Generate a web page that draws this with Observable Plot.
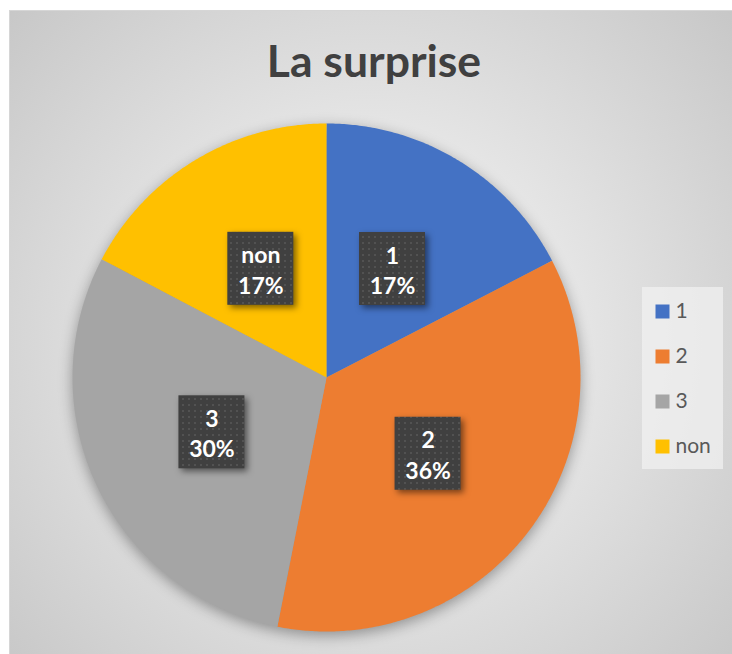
<!DOCTYPE html>
<html><head><meta charset="utf-8">
<script src="https://cdn.jsdelivr.net/npm/d3@7"></script>
<script src="https://cdn.jsdelivr.net/npm/@observablehq/plot@0.6"></script>
<style>
html,body{margin:0;padding:0;background:#fff;width:732px;height:654px;overflow:hidden;position:relative;}
#frame{position:absolute;left:9px;top:10px;width:740px;height:660px;box-sizing:border-box;border-left:1px solid #d6d6d6;border-top:1px solid #d6d6d6;
  background:radial-gradient(circle farthest-corner at 360px 330px,#f4f4f4 0%,#e6e6e6 40%,#c6c6c6 100%);}
#title{position:absolute;left:0;width:748px;top:37.5px;text-align:center;font:700 44.5px/44.5px Lato,sans-serif;color:#404040;}
#pie{position:absolute;left:0;top:0;}
#legend{position:absolute;left:642px;top:287px;width:81px;height:182px;background:rgba(242,242,242,0.7);}
#pie g[aria-label="line"]{filter:drop-shadow(0 4px 7px rgba(0,0,0,0.35));}
#pie g[aria-label="rect"] rect{fill:url(#dots);filter:drop-shadow(3px 3px 3px rgba(0,0,0,0.5));}
</style></head>
<body>
<svg width="0" height="0" style="position:absolute"><defs>
<pattern id="dots" width="6" height="6" patternUnits="userSpaceOnUse">
<rect width="6" height="6" fill="#404040"/><rect x="2" y="2" width="2" height="2" fill="#525252"/>
</pattern></defs></svg>
<div id="frame"></div>
<div id="title">La surprise</div>
<div id="pie"></div>
<div id="legend"></div>
<script>
const categories = ["1", "2", "3", "non"];
const values = [17.4, 35.7, 29.6, 17.3];
const colors = ["#4472C4", "#ED7D31", "#A5A5A5", "#FFC000"];

const total = d3.sum(values);
const K = 254; // pixels per unit radius
let acc = 0;
const slices = categories.map((key, i) => {
  const a0 = acc / total * 2 * Math.PI;
  acc += values[i];
  const a1 = acc / total * 2 * Math.PI;
  return {key, value: values[i], a0, a1, pct: Math.round(values[i] / total * 100)};
});
const slicePts = [];
for (const s of slices) {
  slicePts.push({key: s.key, x: 0, y: 0});
  const n = Math.max(2, Math.ceil((s.a1 - s.a0) / (Math.PI / 360)));
  for (let j = 0; j <= n; j++) {
    const a = s.a0 + (s.a1 - s.a0) * j / n;
    slicePts.push({key: s.key, x: Math.sin(a), y: Math.cos(a)});
  }
}
const labels = slices.map(s => {
  const m = (s.a0 + s.a1) / 2;
  return {key: s.key, x: 0.5 * Math.sin(m), y: 0.5 * Math.cos(m), text: s.key + "\n" + s.pct + "%"};
});
const bw = 66 / K, bh = 73 / K;

const chart = Plot.plot({
  width: 732, height: 654, margin: 0,
  x: {domain: [-326 / K, 406 / K], axis: null},
  y: {domain: [-277 / K, 377 / K], axis: null},
  color: {domain: categories, range: colors},
  style: {background: "transparent", overflow: "visible"},
  marks: [
    Plot.line(slicePts, {x: "x", y: "y", z: "key", fill: "key", stroke: "none", curve: "linear-closed"}),
    Plot.rect(labels, {x1: d => d.x - bw / 2, x2: d => d.x + bw / 2, y1: d => d.y - bh / 2, y2: d => d.y + bh / 2, fill: "#404040"}),
    Plot.text(labels, {x: "x", y: "y", text: "text", fill: "white", fontSize: 23, fontWeight: 700, lineHeight: 1.32, fontFamily: "Lato"})
  ]
});
document.getElementById("pie").appendChild(chart);

const legend = Plot.plot({
  width: 81, height: 182, margin: 0,
  y: {type: "point", domain: categories, range: [23, 159], padding: 0, axis: null},
  color: {domain: categories, range: colors},
  style: {background: "transparent", overflow: "visible"},
  marks: [
    Plot.dot(categories, {frameAnchor: "left", dx: 20, y: d => d, fill: d => d, symbol: "square", r: 7.9, stroke: "none"}),
    Plot.text(categories, {frameAnchor: "left", dx: 33, y: d => d, text: d => d, textAnchor: "start", fontSize: 21, fill: "#595959", fontFamily: "Lato"})
  ]
});
document.getElementById("legend").appendChild(legend);
</script>
</body></html>
